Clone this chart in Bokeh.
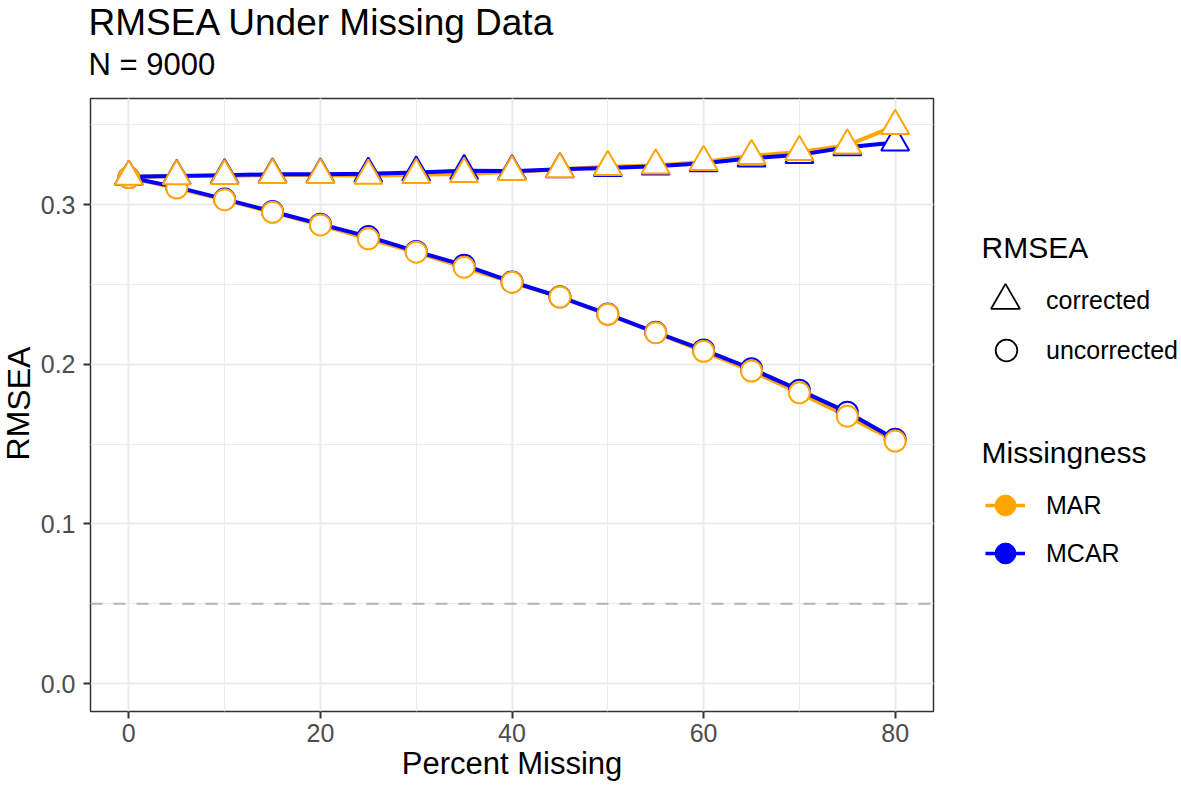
from bokeh.plotting import figure
from bokeh.layouts import column, row
from bokeh.models import (Span, Legend, LegendItem, Label, Range1d,
                          SingleIntervalTicker, NumeralTickFormatter)
from bokeh.embed import file_html
from bokeh.resources import INLINE

# ---------------- data ----------------
pct_missing = [0, 5, 10, 15, 20, 25, 30, 35, 40, 45, 50, 55, 60, 65, 70, 75, 80]

mar_corrected = [0.3175, 0.3179, 0.3180, 0.3186, 0.3186, 0.3181, 0.3187, 0.3192, 0.3205,
                 0.3222, 0.3237, 0.3246, 0.3268, 0.3306, 0.3330, 0.3371, 0.3494]
mcar_corrected = [0.3175, 0.3180, 0.3185, 0.3190, 0.3190, 0.3194, 0.3202, 0.3212, 0.3210,
                  0.3222, 0.3230, 0.3240, 0.3260, 0.3290, 0.3312, 0.3360, 0.3390]
mar_uncorrected = [0.3170, 0.3104, 0.3031, 0.2952, 0.2873, 0.2786, 0.2702, 0.2608, 0.2514,
                   0.2421, 0.2313, 0.2198, 0.2081, 0.1958, 0.1821, 0.1675, 0.1519]
mcar_uncorrected = [0.3170, 0.3110, 0.3035, 0.2957, 0.2878, 0.2800, 0.2707, 0.2621, 0.2516,
                    0.2423, 0.2315, 0.2200, 0.2090, 0.1972, 0.1838, 0.1700, 0.1530]

reference_line = 0.05
x_ticks_interval = 20
y_ticks_interval = 0.1

title_text = "RMSEA Under Missing Data"
subtitle_text = "N = 9000"
x_label = "Percent Missing"
y_label = "RMSEA"
shape_legend_title = "RMSEA"
shape_labels = ["corrected", "uncorrected"]
color_legend_title = "Missingness"
color_labels = ["MAR", "MCAR"]

# ---------------- style ----------------
ORANGE = "#FFA500"
BLUE = "#0000FF"
FONT = "Liberation Sans"
GRID = "#EBEBEB"
DARK = "#333333"
TICKTXT = "#4D4D4D"
NAN = float("nan")

TOP_B, BOT_B = 8, 78     # borders shared by the plot row (frames are aligned)
ROW_H = 699
LEFT_W = 37


def blank(w, h, top=0, bottom=0):
    f = figure(width=w, height=h, output_backend="svg", toolbar_location=None,
               x_axis_type=None, y_axis_type=None, x_range=Range1d(0, 1),
               y_range=Range1d(0, 1), min_border_left=0, min_border_right=0,
               min_border_top=top, min_border_bottom=bottom,
               background_fill_color="white", border_fill_color="white")
    f.outline_line_color = None
    return f


def lab(f, text, x, y, size, **kw):
    f.add_layout(Label(text=text, x=x, y=y, x_units="screen", y_units="screen",
                       text_font=FONT, text_font_size=size, text_color="black", **kw))


# ---------------- title strip ----------------
t = blank(1181, 90)
lab(t, title_text, 88, 48, "37px")
lab(t, subtitle_text, 88, 9, "31px")

# ---------------- y label strip ----------------
l = blank(LEFT_W, ROW_H, TOP_B, BOT_B)
lab(l, y_label, 36, 308, "32px", text_align="center", angle=1.5707963)

# ---------------- main plot ----------------
p = figure(width=935 - LEFT_W, height=ROW_H, output_backend="svg", toolbar_location=None,
           x_range=Range1d(-4, 84), y_range=Range1d(-0.0175, 0.3665),
           min_border_left=89 - LEFT_W, min_border_right=2, min_border_top=TOP_B,
           min_border_bottom=BOT_B, background_fill_color="white",
           border_fill_color="white")

p.outline_line_color = DARK
p.outline_line_width = 1.5

p.xaxis.ticker = SingleIntervalTicker(interval=x_ticks_interval, num_minor_ticks=2)
p.yaxis.ticker = SingleIntervalTicker(interval=y_ticks_interval, num_minor_ticks=2)
p.yaxis.formatter = NumeralTickFormatter(format="0.0")

for ax in (p.xaxis, p.yaxis):
    ax.axis_line_color = None
    ax.major_tick_out = 7
    ax.major_tick_in = 0
    ax.minor_tick_out = 0
    ax.minor_tick_in = 0
    ax.major_tick_line_color = DARK
    ax.major_tick_line_width = 2
    ax.major_label_text_font = FONT
    ax.major_label_text_font_size = "25px"
    ax.major_label_text_color = TICKTXT
p.xaxis.major_label_standoff = 5
p.yaxis.major_label_standoff = 8

p.xaxis.axis_label = x_label
p.xaxis.axis_label_text_font = FONT
p.xaxis.axis_label_text_font_size = "31px"
p.xaxis.axis_label_text_font_style = "normal"
p.xaxis.axis_label_text_color = "black"
p.xaxis.axis_label_standoff = 1

for g in (p.xgrid, p.ygrid):
    g.grid_line_color = GRID
    g.grid_line_width = 2
    g.minor_grid_line_color = GRID
    g.minor_grid_line_width = 1

p.add_layout(Span(location=reference_line, dimension="width", line_color="#B3B3B3",
                  line_width=2, line_dash="12 11", level="underlay"))

# lines: orange below, blue above
p.line(pct_missing, mar_corrected, line_color=ORANGE, line_width=4)
p.line(pct_missing, mar_uncorrected, line_color=ORANGE, line_width=4)
p.line(pct_missing, mcar_corrected, line_color=BLUE, line_width=4)
p.line(pct_missing, mcar_uncorrected, line_color=BLUE, line_width=4)

# points: blue first, orange on top; triangles above circles
p.scatter(pct_missing, mcar_uncorrected, marker="circle", size=21, fill_color="white",
          line_color=BLUE, line_width=2)
p.scatter(pct_missing, mcar_corrected, marker="triangle", size=28, fill_color="white",
          line_color=BLUE, line_width=2)
p.scatter(pct_missing, mar_uncorrected, marker="circle", size=21, fill_color="white",
          line_color=ORANGE, line_width=2)
p.scatter(pct_missing, mar_corrected, marker="triangle", size=28, fill_color="white",
          line_color=ORANGE, line_width=2)

# ---------------- legend strip ----------------
q = blank(246, ROW_H, TOP_B, BOT_B)
r_tri = q.scatter([NAN], [NAN], marker="triangle", fill_color="white", line_color="black",
                  line_width=1.8)
r_cir = q.scatter([NAN], [NAN], marker="circle", fill_color="white", line_color="black",
                  line_width=1.8)
r_mar_l = q.line([NAN, NAN], [NAN, NAN], line_color=ORANGE, line_width=3.5)
r_mar_p = q.scatter([NAN], [NAN], marker="circle", fill_color=ORANGE, line_color=ORANGE)
r_mcar_l = q.line([NAN, NAN], [NAN, NAN], line_color=BLUE, line_width=3.5)
r_mcar_p = q.scatter([NAN], [NAN], marker="circle", fill_color=BLUE, line_color=BLUE)

common = dict(padding=0, margin=0, spacing=0, border_line_color=None,
              background_fill_alpha=0, label_text_font=FONT, label_text_font_size="25px",
              label_text_color="black")


def leg(label, rend, x, y, gw, gh, standoff):
    q.add_layout(Legend(items=[LegendItem(label=label, renderers=[rend])],
                        location=(x, y), glyph_width=gw, glyph_height=gh,
                        label_standoff=standoff, **common))


# shapes (box size chosen so the drawn marker matches the reference)
leg(shape_labels[0], r_tri, 34, 375, 72, 72, 5)
leg(shape_labels[1], r_cir, 44, 334, 54, 54, 13)
# colours: line + dot drawn by two overlapping single-item legends
leg(color_labels[0], r_mar_l, 50, 186, 40, 40, 21)
leg(" ", r_mar_p, 44, 180, 52, 52, 5)
leg(color_labels[1], r_mcar_l, 50, 138, 40, 40, 21)
leg(" ", r_mcar_p, 44, 132, 52, 52, 5)

lab(q, shape_legend_title, 46, 447.6, "30px")
lab(q, color_legend_title, 46, 242.6, "30px")

layout = column(t, row(l, p, q))
open("out.html", "w").write(file_html(layout, INLINE))
